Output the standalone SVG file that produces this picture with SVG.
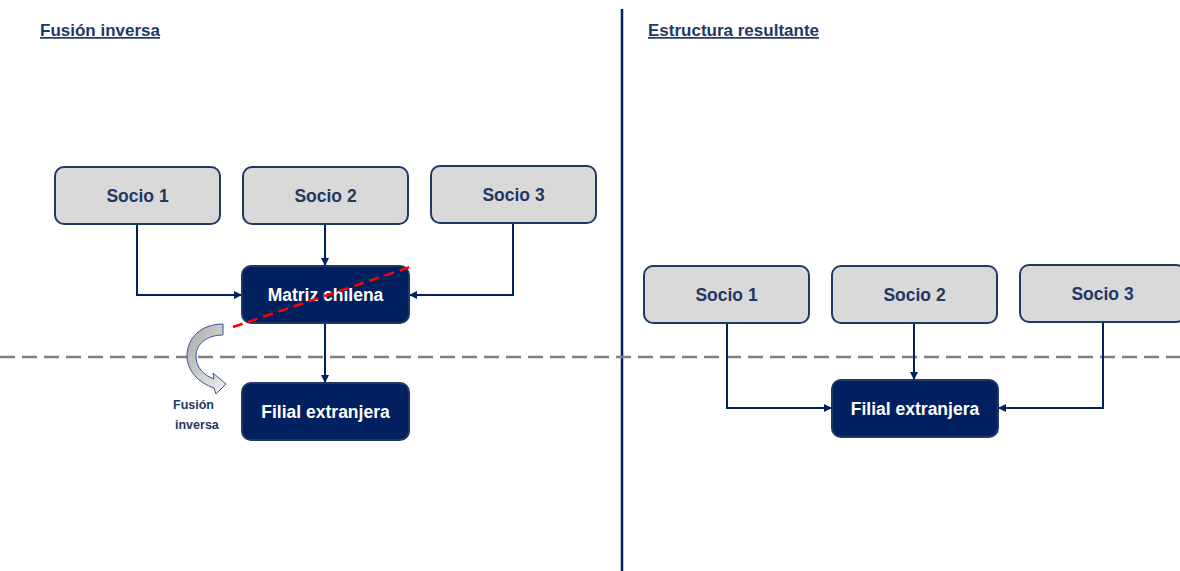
<svg xmlns="http://www.w3.org/2000/svg" width="1180" height="571" viewBox="0 0 1180 571">
<style>
.title{font-family:"Liberation Sans",Arial,sans-serif;font-weight:bold;font-size:17px;fill:#1f3864;text-decoration:underline;}
.gbox{fill:#d9d9d9;stroke:#1f3864;stroke-width:2;}
.dbox{fill:#002060;stroke:#1f3864;stroke-width:2;}
.gt{font-family:"Liberation Sans",Arial,sans-serif;font-weight:bold;font-size:17.5px;fill:#1f3864;text-anchor:middle;}
.dt{font-family:"Liberation Sans",Arial,sans-serif;font-weight:bold;font-size:17.5px;fill:#ffffff;text-anchor:middle;}
.conn{fill:none;stroke:#002060;stroke-width:2;}
.small{font-family:"Liberation Sans",Arial,sans-serif;font-weight:bold;font-size:12.5px;fill:#1f3864;}
</style>
<defs>
<marker id="arr" markerWidth="8" markerHeight="8" refX="7" refY="4" orient="auto" markerUnits="userSpaceOnUse">
<path d="M0,0 L8,4 L0,8 Z" fill="#002060"/>
</marker>
<linearGradient id="ag" x1="0" y1="0" x2="1" y2="1">
<stop offset="0" stop-color="#a6a6a6"/>
<stop offset="1" stop-color="#f2f2f2"/>
</linearGradient>
</defs>
<rect width="1180" height="571" fill="#ffffff"/>

<g id="titles">
<text class="title" x="40" y="36">Fusión inversa</text>
<text class="title" x="648" y="36">Estructura resultante</text>
</g>

<g id="divider">
<line x1="622" y1="9" x2="622" y2="571" stroke="#002060" stroke-width="2.5"/>
<line x1="0" y1="357" x2="1180" y2="357" stroke="#7f7f7f" stroke-width="2.5" stroke-dasharray="15,7"/>
</g>

<g id="connectors">
<path class="conn" d="M137,224 V295 H241" marker-end="url(#arr)"/>
<path class="conn" d="M325,224 V265" marker-end="url(#arr)"/>
<path class="conn" d="M513,223 V295 H410" marker-end="url(#arr)"/>
<path class="conn" d="M325,323 V382" marker-end="url(#arr)"/>
<path class="conn" d="M727,323 V408 H831" marker-end="url(#arr)"/>
<path class="conn" d="M914,323 V379" marker-end="url(#arr)"/>
<path class="conn" d="M1103,322 V408 H999" marker-end="url(#arr)"/>
</g>

<g id="l-socio1"><rect class="gbox" x="55" y="167" width="165" height="57" rx="9"/><text class="gt" x="137.5" y="202">Socio 1</text></g>
<g id="l-socio2"><rect class="gbox" x="243" y="167" width="165" height="57" rx="9"/><text class="gt" x="325.5" y="202">Socio 2</text></g>
<g id="l-socio3"><rect class="gbox" x="431" y="166" width="165" height="57" rx="9"/><text class="gt" x="513.5" y="201">Socio 3</text></g>
<g id="l-matriz"><rect class="dbox" x="242" y="266" width="167" height="57" rx="9"/><text class="dt" x="325.5" y="301">Matriz chilena</text></g>
<g id="l-filial"><rect class="dbox" x="242" y="383" width="167" height="57" rx="9"/><text class="dt" x="325.5" y="418">Filial extranjera</text></g>

<g id="red-cut">
<line x1="233" y1="327" x2="413" y2="266" stroke="#ff0000" stroke-width="2.5" stroke-dasharray="10,6"/>
</g>

<g id="fusion-arrow">
<path d="M223,324 C201,324 187,338 187,356 C187,371 199,383 214,388 L216,394 L226,384 L213,373 L214,379 C203,375 196,367 196,356 C196,344 207,335 223,335 Z" fill="url(#ag)" stroke="#2f5597" stroke-width="1"/>
<text class="small" x="173" y="409">Fusión</text>
<text class="small" x="175" y="429">inversa</text>
</g>

<g id="r-socio1"><rect class="gbox" x="644" y="266" width="165" height="57" rx="9"/><text class="gt" x="726.5" y="301">Socio 1</text></g>
<g id="r-socio2"><rect class="gbox" x="832" y="266" width="165" height="57" rx="9"/><text class="gt" x="914.5" y="301">Socio 2</text></g>
<g id="r-socio3"><rect class="gbox" x="1020" y="265" width="165" height="57" rx="9"/><text class="gt" x="1102.5" y="300">Socio 3</text></g>
<g id="r-filial"><rect class="dbox" x="832" y="380" width="166" height="57" rx="9"/><text class="dt" x="915" y="415">Filial extranjera</text></g>
</svg>
